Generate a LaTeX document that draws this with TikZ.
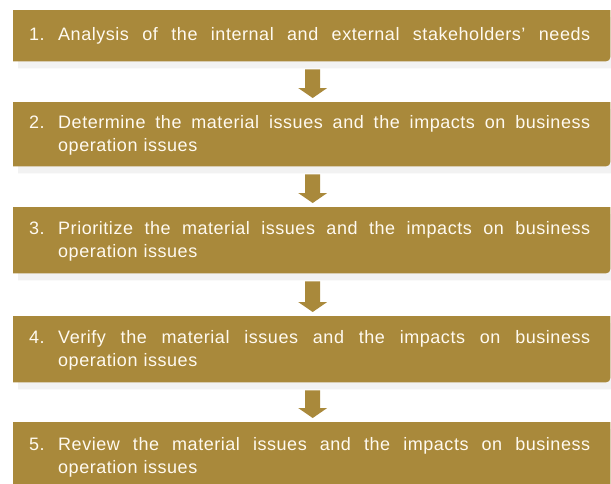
\documentclass[tikz,border=0pt]{standalone}
\usepackage{fontspec}
\setmainfont{Liberation Sans}[LetterSpace=3]
\usetikzlibrary{calc}

\definecolor{gold}{RGB}{169,137,59}
\definecolor{shade}{RGB}{242,242,242}
\definecolor{cream}{RGB}{255,250,240}

\tikzset{
  stagebox/.style={rectangle, inner sep=0pt, minimum width=597pt, anchor=north west},
  stagetext/.style={anchor=base west, inner sep=0pt, text width=561pt, align=left,
    text=cream, font=\fontsize{18}{23.5}\selectfont},
  flowfill/.style={fill=gold},
  shadowfill/.style={fill=shade}
}

% a full-width line whose word gaps are spread evenly, and the step number
\newcommand\wline[1]{\makebox[532pt][l]{#1}}
\newcommand\gap{\hspace{0pt plus 1fill}}
\newcommand\stepnum[1]{\makebox[29pt][l]{#1}}

% box outline with only the lower right corner rounded
\newcommand\stagepath[2]{% #1 node, #2 shift
  ([shift={#2}]#1.north west) -- ([shift={#2}]#1.north east)
  -- ([shift={#2}]$(#1.south east)+(0,-10)$)
  .. controls ([shift={#2}]#1.south east) .. ([shift={#2}]$(#1.south east)+(-10,0)$)
  -- ([shift={#2}]#1.south west) -- cycle}

% block arrow from the foot of one box to the head of the next
\newcommand\flowarrow[2]{%
  \fill[flowfill] ($(#1.south)+(-6.5,8)$) -- ($(#1.south)+(8.5,8)$)
    -- ($(#2.north)+(8.5,-14)$) -- ($(#2.north)+(15.5,-14)$)
    -- ($(#2.north)+(1,-4)$)
    -- ($(#2.north)+(-13.5,-14)$) -- ($(#2.north)+(-6.5,-14)$) -- cycle;}

\begin{document}
\begin{tikzpicture}[x=1pt,y=-1pt]
\useasboundingbox (0,0) rectangle (611,483);

% box outlines (placement only)
\node[stagebox, minimum height=51pt] (b1) at (13,10) {};
\node[stagebox, minimum height=64pt] (b2) at (13,102) {};
\node[stagebox, minimum height=66pt] (b3) at (13,207) {};
\node[stagebox, minimum height=66pt] (b4) at (13,316) {};
\node[stagebox, minimum height=66pt] (b5) at (13,422) {};

% soft shadows under each box
\foreach \b in {b1,b2,b3,b4,b5} {
  \fill[shadowfill] \stagepath{\b}{(5,7)};
}

% the boxes themselves
\foreach \b in {b1,b2,b3,b4,b5} {
  \fill[flowfill] \stagepath{\b}{(0,0)};
}

% arrows between the steps
\flowarrow{b1}{b2}
\flowarrow{b2}{b3}
\flowarrow{b3}{b4}
\flowarrow{b4}{b5}

% step texts
\node[stagetext] (t1) at ($(b1.north west)+(16,30)$)
  {\stepnum{1.}\wline{Analysis\gap of\gap the\gap internal\gap and\gap external\gap stakeholders’\gap needs}};
\node[stagetext] (t2) at ($(b2.north west)+(16,26)$)
  {\stepnum{2.}\wline{Determine\gap the\gap material\gap issues\gap and\gap the\gap impacts\gap on\gap business}\\
   \hspace*{29pt}operation issues};
\node[stagetext] (t3) at ($(b3.north west)+(16,27)$)
  {\stepnum{3.}\wline{Prioritize\gap the\gap material\gap issues\gap and\gap the\gap impacts\gap on\gap business}\\
   \hspace*{29pt}operation issues};
\node[stagetext] (t4) at ($(b4.north west)+(16,27)$)
  {\stepnum{4.}\wline{Verify\gap the\gap material\gap issues\gap and\gap the\gap impacts\gap on\gap business}\\
   \hspace*{29pt}operation issues};
\node[stagetext] (t5) at ($(b5.north west)+(16,28)$)
  {\stepnum{5.}\wline{Review\gap the\gap material\gap issues\gap and\gap the\gap impacts\gap on\gap business}\\
   \hspace*{29pt}operation issues};
\end{tikzpicture}
\end{document}
